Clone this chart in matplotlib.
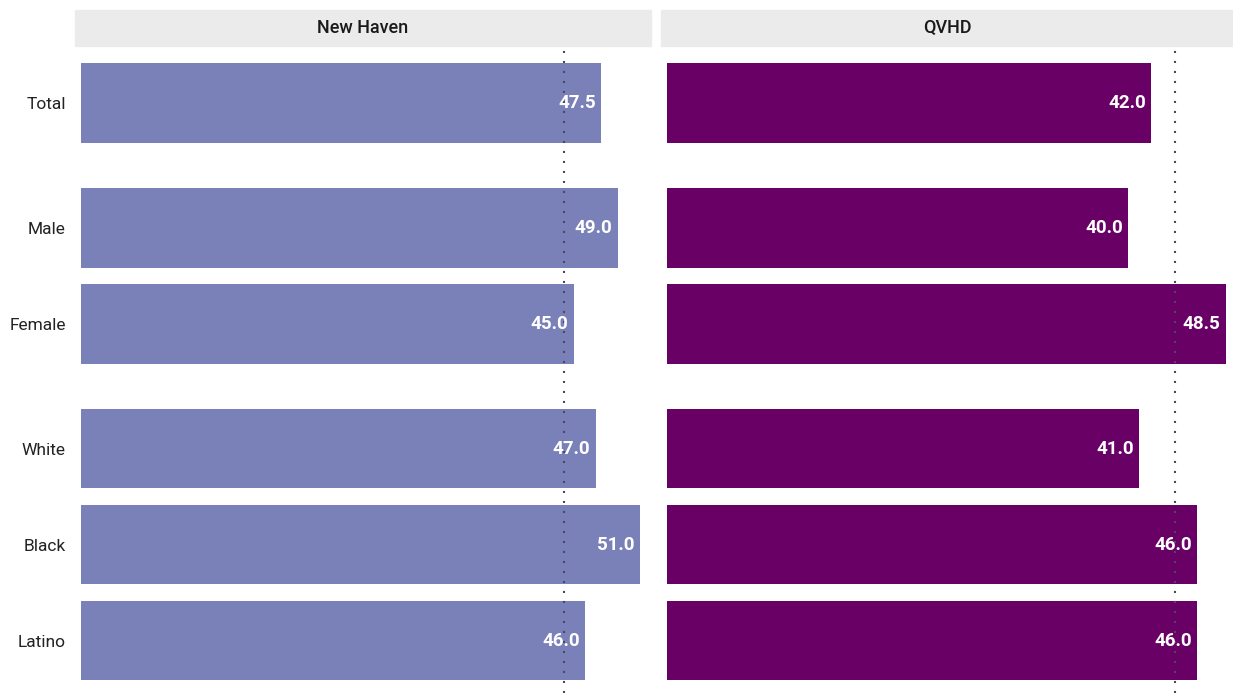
import matplotlib.pyplot as plt
from matplotlib.patches import Rectangle

plt.rcParams['font.family'] = ['Roboto', 'DejaVu Sans']

# data
categories = ["Total", "Male", "Female", "White", "Black", "Latino"]
groups = [0, 1, 1, 2, 2, 2]
regions = ["New Haven", "QVHD"]
new_haven = [47.5, 49.0, 45.0, 47.0, 51.0, 46.0]
qvhd = [42.0, 40.0, 48.5, 41.0, 46.0, 46.0]
ref_value = 44.1
colors = ["#7981b8", "#690065"]

ypos = [i + g * 0.3 for i, g in zip(range(len(categories)), groups)]

W, H = 1233, 695
fig = plt.figure(figsize=(W / 100, H / 100), dpi=100)

def fx(px):
    return px / W

def fy(py):
    return 1 - py / H

panels = [(75, 651, (-0.55, 52.05), new_haven), (661, 1233, (-0.52, 49.13), qvhd)]
top, bottom = 48, 693

for k, (x0, x1, xlim, vals) in enumerate(panels):
    ax = fig.add_axes([fx(x0), fy(bottom), fx(x1 - x0), (bottom - top) / H])
    ax.barh(ypos, vals, height=0.83, color=colors[k], zorder=1)
    ax.axvline(ref_value, color="#4a4a5a", linestyle=(0, (1, 3.8)), linewidth=1.5, zorder=2)
    for y, v in zip(ypos, vals):
        ax.text(v - xlim[1] * 0.009, y, f"{v:.1f}", color="white", fontweight="bold",
                fontsize=13.5, ha="right", va="center", zorder=3)
    ax.set_xlim(*xlim)
    ax.set_ylim(6.146, -0.573)
    ax.set_xticks([])
    if k == 0:
        ax.set_yticks(ypos)
        ax.set_yticklabels(categories, fontsize=12.5, color="#222222")
        ax.tick_params(axis="y", length=0, pad=6.5)
    else:
        ax.set_yticks([])
    for s in ax.spines.values():
        s.set_visible(False)
    # strip
    fig.patches.append(Rectangle((fx(x0), fy(46)), fx(x1 - x0), 36 / H,
                                 transform=fig.transFigure, color="#ebebeb", zorder=0))
    fig.text(fx((x0 + x1) / 2), fy(28), regions[k], ha="center", va="center",
             fontsize=13, fontweight="medium", color="#1a1a1a")

fig.savefig("out.png", dpi=100)
